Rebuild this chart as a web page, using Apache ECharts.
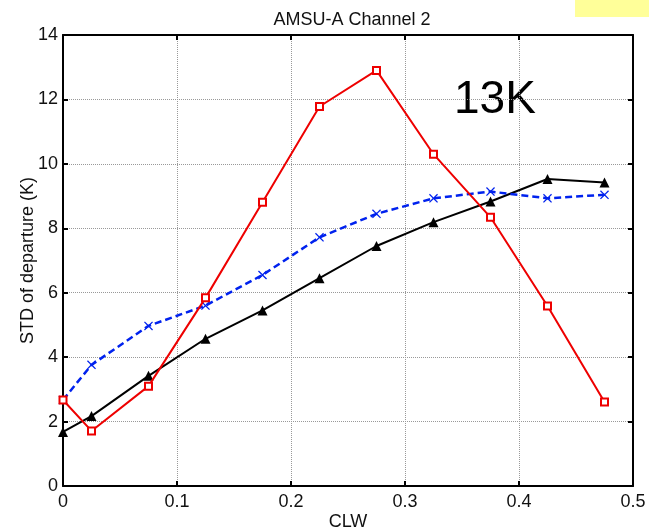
<!DOCTYPE html>
<html>
<head>
<meta charset="utf-8">
<script src="https://cdn.jsdelivr.net/npm/echarts@6/dist/echarts.min.js"></script>
<style>
html,body{margin:0;padding:0;background:#fff;}
#c{width:649px;height:531px;}
</style>
</head>
<body>
<div id="c"></div>
<script>
const clw = [0, 0.025, 0.075, 0.125, 0.175, 0.225, 0.275, 0.325, 0.375, 0.425, 0.475];
const redSquare = [2.67, 1.71, 3.1, 5.84, 8.81, 11.78, 12.9, 10.3, 8.34, 5.59, 2.61];
const blackTriangle = [1.68, 2.17, 3.42, 4.57, 5.45, 6.45, 7.45, 8.19, 8.83, 9.53, 9.42];
const blueCross = [2.67, 3.76, 4.97, 5.6, 6.55, 7.72, 8.45, 8.93, 9.14, 8.93, 9.04];
const xTicks = [0, 0.1, 0.2, 0.3, 0.4, 0.5];
const yTicks = [0, 2, 4, 6, 8, 10, 12, 14];
const titleText = 'AMSU-A Channel 2';
const xName = 'CLW';
const yName = 'STD of departure (K)';
const annotation = '13K';

const FONT = '"Liberation Sans", Arial, Helvetica, sans-serif';
function pairs(ys){ return clw.map((x,i)=>[x, ys[i]]); }
const crossPath = 'path://M0,1L1,0L5,4L9,0L10,1L6,5L10,9L9,10L5,6L1,10L0,9L4,5Z';

const chart = echarts.init(document.getElementById('c'), null, {renderer:'canvas'});
const axisLineStyle = {color:'#000', width:2};
chart.setOption({
  animation:false,
  backgroundColor:'#fff',
  title:{text:titleText, left:347, textAlign:'center', top:6,
    textStyle:{fontFamily:FONT, fontSize:18, fontWeight:'normal', color:'#111'}},
  grid:{left:63, width:570, top:35, height:451, containLabel:false, outerBoundsMode:'none'},
  xAxis:[{
    type:'value', min:0, max:0.5, interval:0.1, position:'bottom',
    name:xName, nameLocation:'middle', nameGap:27, nameMoveOverlap:false,
    nameTextStyle:{fontFamily:FONT, fontSize:18, color:'#111'},
    axisLine:{show:true, onZero:false, lineStyle:axisLineStyle},
    axisTick:{show:true, inside:true, length:5, lineStyle:{color:'#000', width:2}},
    axisLabel:{fontFamily:FONT, fontSize:18, color:'#111', margin:7,
      formatter:v=>{const t=xTicks.find(k=>Math.abs(k-v)<1e-9); return t===undefined?'':String(t);}},
    splitLine:{show:true, lineStyle:{color:'#999', type:'dotted', width:1}}
  },{
    type:'value', min:0, max:0.5, interval:0.1, position:'top',
    axisLine:{show:true, onZero:false, lineStyle:axisLineStyle},
    axisTick:{show:true, inside:true, length:5, lineStyle:{color:'#000', width:2}},
    axisLabel:{show:false}, splitLine:{show:false}
  }],
  yAxis:[{
    type:'value', min:0, max:14, interval:2, position:'left',
    name:yName, nameLocation:'middle', nameGap:26, nameMoveOverlap:false,
    nameTextStyle:{fontFamily:FONT, fontSize:18, color:'#111'},
    axisLine:{show:true, onZero:false, lineStyle:axisLineStyle},
    axisTick:{show:true, inside:true, length:5, lineStyle:{color:'#000', width:2}},
    axisLabel:{fontFamily:FONT, fontSize:18, color:'#111', margin:5,
      formatter:v=>{const t=yTicks.find(k=>Math.abs(k-v)<1e-9); return t===undefined?'':String(t);}},
    splitLine:{show:true, lineStyle:{color:'#999', type:'dotted', width:1}}
  },{
    type:'value', min:0, max:14, interval:2, position:'right',
    axisLine:{show:true, onZero:false, lineStyle:axisLineStyle},
    axisTick:{show:true, inside:true, length:5, lineStyle:{color:'#000', width:2}},
    axisLabel:{show:false}, splitLine:{show:false}
  }],
  graphic:[
    {type:'rect', left:575, top:0, shape:{width:74, height:17}, style:{fill:'#ffff99'}, silent:true},
    {type:'text', left:454, top:77, style:{text:annotation, font:'46px ' + FONT, fill:'#000'}, silent:true}
  ],
  series:[
    {type:'line', data:pairs(blackTriangle), symbol:'triangle', symbolSize:10,
      lineStyle:{color:'#000', width:2}, itemStyle:{color:'#000'}, z:3},
    {type:'line', data:pairs(blueCross), symbol:crossPath, symbolSize:9,
      lineStyle:{color:'#0022ee', width:2.5, type:[7,4]}, itemStyle:{color:'#0022ee'}, z:4},
    {type:'line', data:pairs(redSquare), symbol:'rect', symbolSize:7,
      lineStyle:{color:'#ee0000', width:2}, itemStyle:{color:'#fff', borderColor:'#ee0000', borderWidth:2}, z:5}
  ]
});
</script>
</body>
</html>
